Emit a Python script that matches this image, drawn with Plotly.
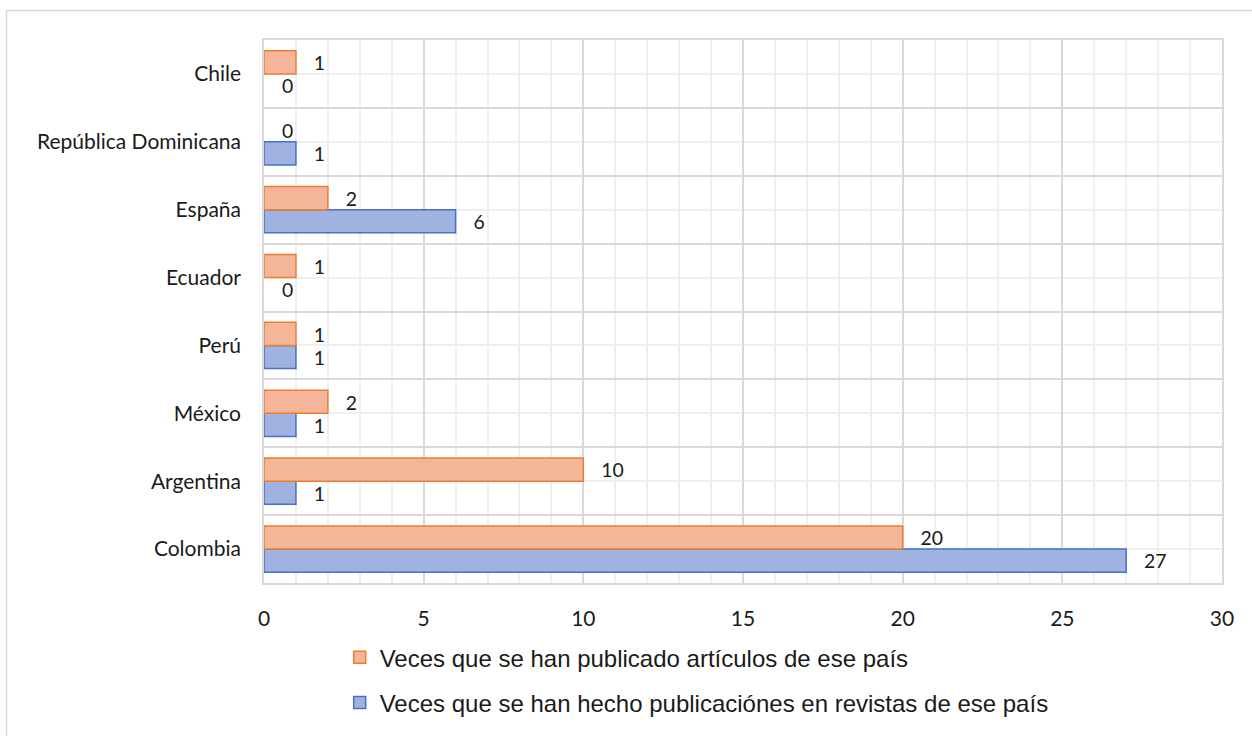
import plotly.graph_objects as go

# Countries, bottom to top
paises = ["Colombia", "Argentina", "México", "Perú", "Ecuador",
          "España", "República Dominicana", "Chile"]
articulos = [20, 10, 2, 1, 1, 2, 0, 1]      # orange series
revistas = [27, 1, 1, 1, 0, 6, 1, 0]        # blue series

nombre_articulos = "Veces que se han publicado artículos de ese país"
nombre_revistas = "Veces que se han hecho publicaciónes en revistas de ese país"

W, H = 1252, 736
L, R, T, B = 264, 30, 40, 153
posiciones = list(range(len(paises)))

FUENTE_EJES = "Lato"
TAM = 21
PAD = "\u00a0\u00a0\u00a0"   # gap between bar end and its value label


def bordes(valores):
    # no outline on empty bars
    return [1.5 if v > 0 else 0 for v in valores]


fig = go.Figure()
fig.add_trace(go.Bar(
    y=posiciones, x=revistas, orientation="h", name=nombre_revistas,
    marker=dict(color="#a0b2df", line=dict(color="#4472c4", width=bordes(revistas))),
    texttemplate=PAD + "%{x}", textposition="outside", cliponaxis=False,
    textfont=dict(family=FUENTE_EJES, size=TAM, color="#1a1a1a"),
    legendrank=2, legendgroup="b",
))
fig.add_trace(go.Bar(
    y=posiciones, x=articulos, orientation="h", name=nombre_articulos,
    marker=dict(color="#f5b598", line=dict(color="#ed7d31", width=bordes(articulos))),
    texttemplate=PAD + "%{x}", textposition="outside", cliponaxis=False,
    textfont=dict(family=FUENTE_EJES, size=TAM, color="#1a1a1a"),
    legendrank=1, legendgroup="a",
))

limites = [p - 0.5 for p in posiciones] + [posiciones[-1] + 0.5]
rango_y = [limites[0], limites[-1]]

# frame around the whole chart, in paper units
pw, ph = W - L - R, H - T - B
fig.add_shape(type="rect", xref="paper", yref="paper", layer="below",
              x0=(6.5 - L) / pw, x1=(W + 4 - L) / pw,
              y0=(H - B - (H + 4)) / ph, y1=(H - B - 10.5) / ph,
              line=dict(color="#d9d9d9", width=1.5), fillcolor="rgba(0,0,0,0)")

fig.update_layout(
    width=W, height=H,
    margin=dict(l=L, r=R, t=T, b=B, autoexpand=False),
    paper_bgcolor="white", plot_bgcolor="white",
    barmode="group", bargap=0.32, bargroupgap=0,
    font=dict(family=FUENTE_EJES, size=TAM, color="#1a1a1a"),
    showlegend=True,
    legend=dict(
        orientation="v", x=0.079, xanchor="left", y=-0.096, yanchor="top",
        font=dict(family="Liberation Sans", size=24, color="#1a1a1a"),
        traceorder="grouped", tracegroupgap=11, itemwidth=30,
    ),
    xaxis=dict(
        range=[0, 30], dtick=5, tick0=0, showgrid=True, gridcolor="#d9d9d9",
        gridwidth=1.5, zeroline=False, showline=True, linecolor="#d9d9d9",
        linewidth=1.5, mirror=True, ticks="", ticklabelstandoff=16,
        tickfont=dict(family=FUENTE_EJES, size=TAM),
        minor=dict(dtick=1, tick0=0, showgrid=True, gridcolor="#efefef", gridwidth=1.5),
    ),
    yaxis=dict(
        range=rango_y, tickmode="array", tickvals=limites, showticklabels=False,
        showgrid=True, gridcolor="#d9d9d9", gridwidth=1.5, zeroline=False,
        showline=True, linecolor="#d9d9d9", linewidth=1.5, mirror=True, ticks="",
        minor=dict(tickmode="array", tickvals=posiciones, showgrid=True,
                   gridcolor="#efefef", gridwidth=1.5),
    ),
    yaxis2=dict(
        overlaying="y", side="left", range=rango_y, tickmode="array",
        tickvals=posiciones, ticktext=paises, showgrid=False, zeroline=False,
        showline=False, ticks="", ticklabelstandoff=22,
        tickfont=dict(family=FUENTE_EJES, size=TAM),
    ),
)

# invisible trace so the label axis is drawn
fig.add_trace(go.Scatter(x=[None], y=[None], yaxis="y2", showlegend=False,
                         hoverinfo="skip"))

fig.write_html("out.html")
